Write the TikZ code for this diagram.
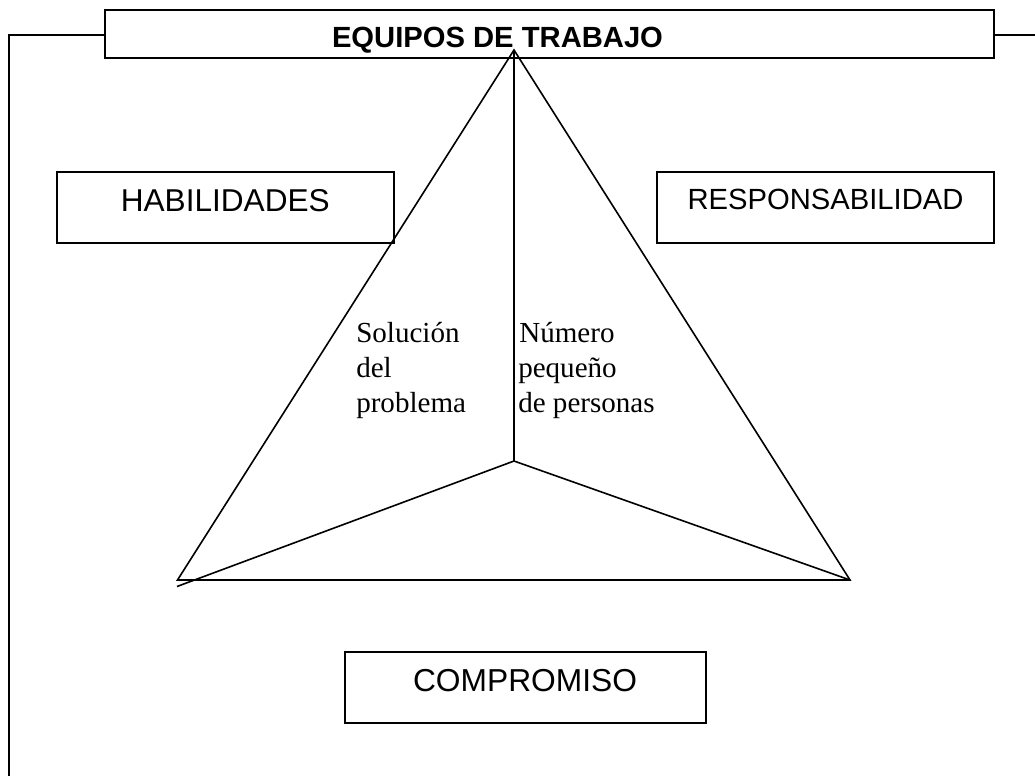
\documentclass[tikz,border=0pt]{standalone}
\usepackage{fontspec}
\setmainfont{Liberation Sans}
\newfontfamily\serifb{Liberation Serif}
\tikzset{
 px/.style={x=0.75pt,y=-0.75pt},
 lbox/.style={draw=black,line width=1.2pt,inner sep=0pt,anchor=center},
 ln/.style={draw=black,line width=1.2pt},
 body/.style={font=\serifb\fontsize{21.8}{26.25}\selectfont,align=left,anchor=north west,inner sep=0pt}
}
\begin{document}
\begin{tikzpicture}[px]
\useasboundingbox (0,0) rectangle (1035,776);
\fill[white] (0,0) rectangle (1035,776);
\node[lbox,minimum width=889*0.75pt,minimum height=48*0.75pt] (title) at (549.5,34.2) {};
\node[font=\bfseries\fontsize{21.9}{24}\selectfont,inner sep=0pt] (titlet) at (497.5,40) {EQUIPOS DE TRABAJO};
\node[lbox,minimum width=337*0.75pt,minimum height=71*0.75pt] (hab) at (225.5,207.2) {};
\node[font=\fontsize{23.7}{28}\selectfont,inner sep=0pt] (habt) at (225.3,200.5) {HABILIDADES};
\node[lbox,minimum width=337*0.75pt,minimum height=71*0.75pt] (res) at (825.5,207.2) {};
\node[font=\fontsize{21.9}{26}\selectfont,inner sep=0pt] (rest) at (825.5,199.5) {RESPONSABILIDAD};
\node[lbox,minimum width=361*0.75pt,minimum height=71*0.75pt] (com) at (525.5,687.5) {};
\node[font=\fontsize{23.8}{28}\selectfont,inner sep=0pt] (comt) at (525,680.5) {COMPROMISO};
\coordinate (top) at (514,50);
\coordinate (c) at (514,461);
\coordinate (bl) at (177.5,580);
\coordinate (blx) at (177,586.5);
\coordinate (br) at (850,580);
\coordinate (l1) at (9,35);
\coordinate (l2) at (9,776);
\coordinate (r1) at (1035,35);
\draw[ln] (top) -- (bl) -- (br) -- cycle;
\draw[ln] (top) -- (c);
\draw[ln] (c) -- (blx);
\draw[ln] (c) -- (br);
\draw[ln] (title.west |- l1) -- (l1) -- (l2);
\draw[ln] (title.east |- r1) -- (r1);
\node[body] (sol) at (356,322.5) {Solución\\del\\problema};
\node[body] (num) at (518,322.5) {\hspace{0.8pt}Número\\pequeño\\de personas};
\end{tikzpicture}
\end{document}
